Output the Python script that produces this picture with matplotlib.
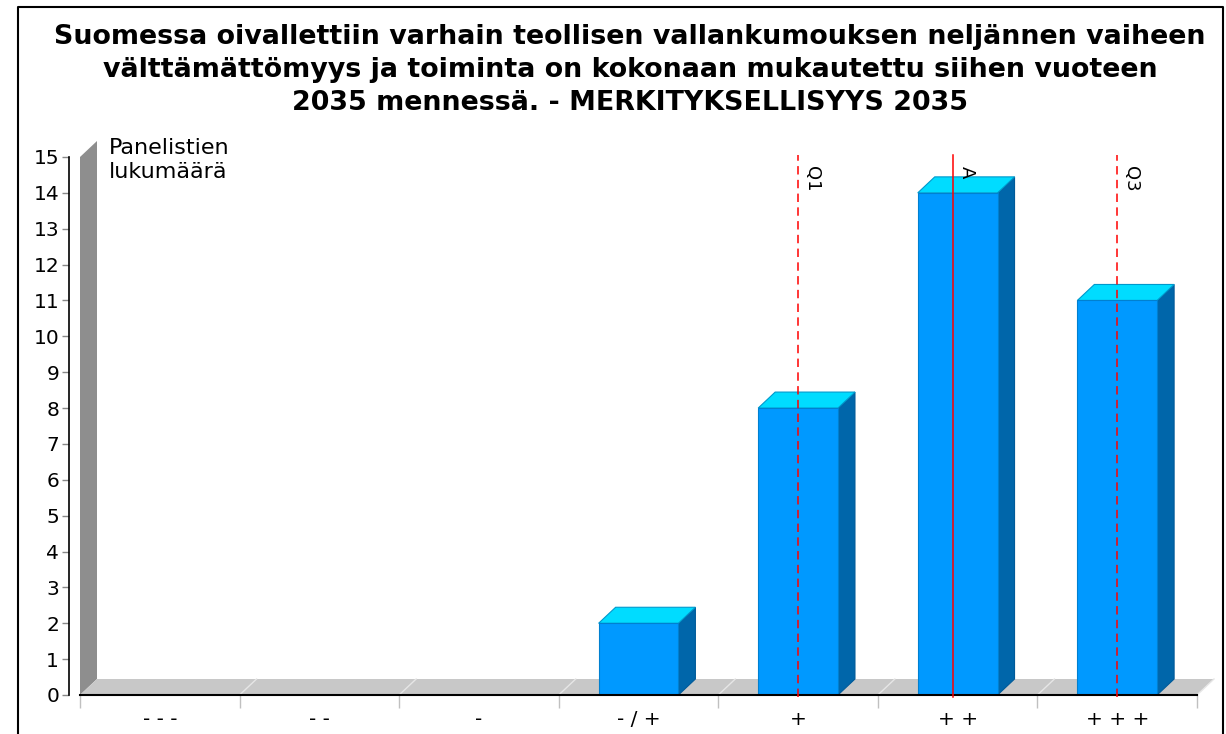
import numpy as np
import matplotlib.pyplot as plt
from matplotlib.patches import Polygon

# data
categories = ["- - -", "- -", "-", "- / +", "+", "+ +", "+ + +"]
counts = [0, 0, 0, 2, 8, 14, 11]
q1 = 4
q3 = 6
mean_pos = sum(i * c for i, c in enumerate(counts)) / sum(counts)

title = ("Suomessa oivallettiin varhain teollisen vallankumouksen neljännen vaiheen\n"
         "välttämättömyys ja toiminta on kokonaan mukautettu siihen vuoteen\n"
         "2035 mennessä. - MERKITYKSELLISYYS 2035")

W, H = 1226, 734
fig = plt.figure(figsize=(W / 100, H / 100), dpi=100)
ax = fig.add_axes([80 / W, (H - 695) / H, 1117 / W, 538 / H])
ax.set_xlim(-0.5, len(categories) - 0.5)
ax.set_ylim(0, 15)

# depth of the fake 3d effect, in data units
ddx = 17 / (1117 / len(categories))
ddy = 16 / (538 / 15)
x0, x1 = -0.5, len(categories) - 0.5

# wall and floor
ax.add_patch(Polygon([(x0, 0), (x0 + ddx, ddy), (x0 + ddx, 15 + ddy), (x0, 15)],
                     closed=True, fc="#8e8e8e", ec="none", clip_on=False, zorder=1))
ax.add_patch(Polygon([(x0, 0), (x1, 0), (x1 + ddx, ddy), (x0 + ddx, ddy)],
                     closed=True, fc="#c8c8c8", ec="none", clip_on=False, zorder=1))
for b in np.arange(x0 + 1, x1 + 0.5, 1):
    ax.plot([b, b + ddx], [0, ddy], color="#e6e6e6", lw=1, zorder=1.5, clip_on=False)

# bars
bw = 0.5
for i, v in enumerate(counts):
    if v == 0:
        continue
    l, r = i - bw / 2, i + bw / 2
    ax.add_patch(Polygon([(r, 0), (r + ddx, ddy), (r + ddx, v + ddy), (r, v)],
                         closed=True, fc="#0066aa", ec="#005a99", lw=0.8, zorder=2))
    ax.add_patch(Polygon([(l, v), (r, v), (r + ddx, v + ddy), (l + ddx, v + ddy)],
                         closed=True, fc="#00dcff", ec="#0099cc", lw=0.8, zorder=2, clip_on=False))
    ax.add_patch(Polygon([(l, 0), (r, 0), (r, v), (l, v)],
                         closed=True, fc="#0099ff", ec="#0080d0", lw=0.8, zorder=3))

# quartile and mean markers
ytop = 15.05
for pos, lab, ls in [(q1, "Q1", (0, (5.5, 3.5))), (mean_pos, "A", "-"), (q3, "Q3", (0, (5.5, 3.5)))]:
    ax.plot([pos, pos], [-0.05, ytop], color="#ff0000", lw=1.1, ls=ls, zorder=4, clip_on=False)
    ax.text(pos + 0.03, ytop - 0.3, lab, rotation=270, ha="left", va="top",
            fontsize=13, zorder=5)

# axes styling
for s in ["top", "right"]:
    ax.spines[s].set_visible(False)
ax.spines["left"].set_position(("outward", 8))
ax.spines["left"].set_linewidth(1.2)
ax.spines["bottom"].set_linewidth(1.5)
ax.spines["bottom"].set_zorder(3.5)
ax.set_yticks(range(16))
ax.set_yticklabels([str(v) for v in range(16)], fontsize=14.5)
ax.tick_params(axis="y", length=5, width=1, color="#888888", pad=2)
ax.set_xticks(range(len(categories)))
ax.set_xticklabels(categories, fontsize=14.5)
ax.tick_params(axis="x", which="major", length=0, pad=11)
ax.set_xticks(np.arange(x0, x1 + 0.5, 1), minor=True)
ax.tick_params(axis="x", which="minor", length=9, width=1, color="#c0c0c0")

ax.text(109 / W, 1 - 160 / H, "Panelistien\nlukumäärä", transform=fig.transFigure,
        fontsize=16, va="center", ha="left", linespacing=1.2)

fig.text(630 / W, 1 - 70 / H, title, ha="center", va="center", fontsize=19.4,
         fontweight="bold", linespacing=1.33)

# frame around the chart
fig.add_artist(plt.Line2D([18 / W, 18 / W, 1223 / W, 1223 / W], [-0.1, 1 - 7 / H, 1 - 7 / H, -0.1],
                          transform=fig.transFigure, color="black", lw=1.5))

fig.savefig("out.png", dpi=100)
